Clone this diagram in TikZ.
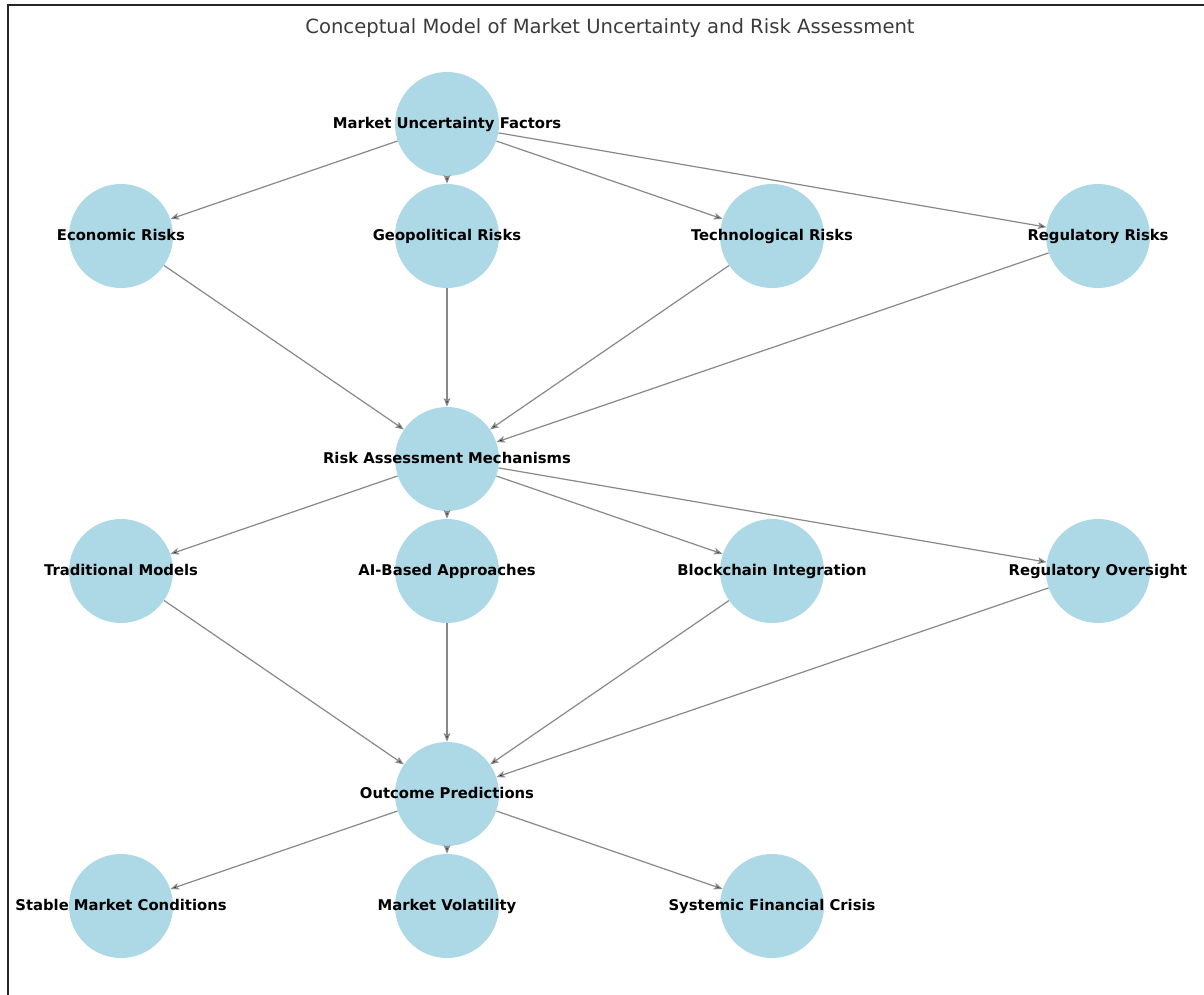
\documentclass[tikz,border=0pt]{standalone}
\usepackage{fontspec}
\setmainfont{DejaVu Sans}
\usetikzlibrary{arrows.meta,calc}
\definecolor{nodeblue}{RGB}{173,216,230}
\definecolor{edgegray}{RGB}{136,136,136}
\definecolor{titlegray}{RGB}{60,60,60}
\tikzstyle{concept}=[circle,
                     fill=nodeblue,
                     inner sep=0pt,
                     minimum size=78pt]
\tikzstyle{conceptlabel}=[font=\fontsize{11.1}{13}\selectfont\bfseries,
                          text=black,
                          inner sep=0pt,
                          text height=0.73em,
                          text depth=0.23em,
                          yshift=-0.6pt]
\tikzstyle{link}=[draw=edgegray,
                  line width=0.9pt,
                  -{Stealth[length=6.5pt,width=5pt,inset=1.5pt]}]

\begin{document}
\begin{tikzpicture}[x=0.75pt,y=-0.75pt]
    \useasboundingbox (0,0) rectangle (1204,995);
    \draw[line width=0.9pt,black!85] (8,995) -- (8,5) -- (1204,5);
    \node[font=\fontsize{14.7}{17}\selectfont,text=titlegray] (title) at (610,28.5) {Conceptual Model of Market Uncertainty and Risk Assessment};
    \node[concept] (muf) at (447,124) {};
    \node[concept] (econ) at (121,236) {};
    \node[concept] (geo) at (447,236) {};
    \node[concept] (tech) at (772,236) {};
    \node[concept] (reg) at (1098,236) {};
    \node[concept] (ram) at (447,459) {};
    \node[concept] (trad) at (121,571) {};
    \node[concept] (ai) at (447,571) {};
    \node[concept] (chain) at (772,571) {};
    \node[concept] (oversight) at (1098,571) {};
    \node[concept] (outcome) at (447,794) {};
    \node[concept] (stable) at (121,906) {};
    \node[concept] (vol) at (447,906) {};
    \node[concept] (crisis) at (772,906) {};
    \path[link] (muf) edge (econ) (muf) edge (geo) (muf) edge (tech) (muf) edge (reg)
    (econ) edge (ram) (geo) edge (ram) (tech) edge (ram) (reg) edge (ram)
    (ram) edge (trad) (ram) edge (ai) (ram) edge (chain) (ram) edge (oversight)
    (trad) edge (outcome) (ai) edge (outcome) (chain) edge (outcome) (oversight) edge (outcome)
    (outcome) edge (stable) (outcome) edge (vol) (outcome) edge (crisis);
    \node[conceptlabel] at (muf) {Market Uncertainty Factors};
    \node[conceptlabel] at (econ) {Economic Risks};
    \node[conceptlabel] at (geo) {Geopolitical Risks};
    \node[conceptlabel] at (tech) {Technological Risks};
    \node[conceptlabel] at (reg) {Regulatory Risks};
    \node[conceptlabel] at (ram) {Risk Assessment Mechanisms};
    \node[conceptlabel] at (trad) {Traditional Models};
    \node[conceptlabel] at (ai) {AI-Based Approaches};
    \node[conceptlabel] at (chain) {Blockchain Integration};
    \node[conceptlabel] at (oversight) {Regulatory Oversight};
    \node[conceptlabel] at (outcome) {Outcome Predictions};
    \node[conceptlabel] at (stable) {Stable Market Conditions};
    \node[conceptlabel] at (vol) {Market Volatility};
    \node[conceptlabel] at (crisis) {Systemic Financial Crisis};
\end{tikzpicture}
\end{document}
